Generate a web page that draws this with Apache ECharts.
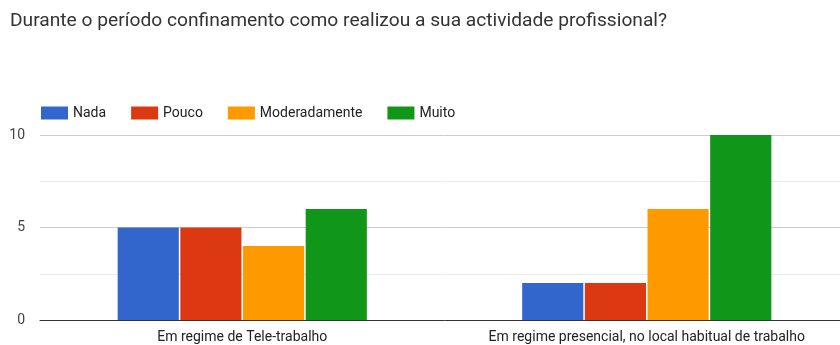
<!DOCTYPE html>
<html>
<head>
<meta charset="utf-8">
<script src="https://cdn.jsdelivr.net/npm/echarts@6/dist/echarts.min.js"></script>
<style>
  html, body { margin: 0; padding: 0; background: #fff; overflow: hidden; }
  #chart { width: 849px; height: 345px; }
</style>
</head>
<body>
<div id="chart"></div>
<script>
// Survey answers: how professional activity was carried out during lockdown
const categories = ['Em regime de Tele-trabalho', 'Em regime presencial, no local habitual de trabalho'];
const nada = [5, 2];
const pouco = [5, 2];
const moderadamente = [4, 6];
const muito = [6, 10];
const seriesNames = ['Nada', 'Pouco', 'Moderadamente', 'Muito'];
const seriesColors = ['#3366cc', '#dc3912', '#ff9900', '#109618'];
const yTicks = [0, 5, 10];

const values = [nada, pouco, moderadamente, muito];
const fontFamily = 'Roboto, Arial, sans-serif';

const chart = echarts.init(document.getElementById('chart'), null, { renderer: 'canvas' });
chart.setOption({
  animation: false,
  textStyle: { fontFamily },
  title: {
    text: 'Durante o período confinamento como realizou a sua actividade profissional?',
    left: 5,
    top: 7,
    textStyle: { fontFamily, fontSize: 19.2, fontWeight: 'normal', color: '#333' }
  },
  legend: {
    left: 36,
    top: 101,
    itemWidth: 27,
    itemHeight: 13,
    itemGap: 25,
    icon: 'rect',
    textStyle: { fontFamily, fontSize: 14, color: '#222' },
    data: seriesNames
  },
  grid: { left: 40, top: 135, right: 0, bottom: 25, containLabel: false },
  xAxis: {
    type: 'category',
    data: categories,
    axisTick: { show: false },
    axisLine: { show: true, lineStyle: { color: '#333', width: 1 } },
    axisLabel: { fontFamily, fontSize: 14, color: '#222', margin: 10, interval: 0 }
  },
  yAxis: {
    type: 'value',
    min: yTicks[0],
    max: yTicks[yTicks.length - 1],
    interval: 5,
    axisLine: { show: false },
    axisTick: { show: false },
    axisLabel: { fontFamily, fontSize: 14, color: '#444', margin: 15 },
    splitLine: { lineStyle: { color: '#cccccc' } },
    minorTick: { show: false, splitNumber: 2 },
    minorSplitLine: { show: true, lineStyle: { color: '#ebebeb' } }
  },
  series: seriesNames.map((name, i) => ({
    name,
    type: 'bar',
    data: values[i],
    itemStyle: { color: seriesColors[i] },
    barGap: '2.5%',
    barCategoryGap: '38.4%'
  }))
});
</script>
</body>
</html>
